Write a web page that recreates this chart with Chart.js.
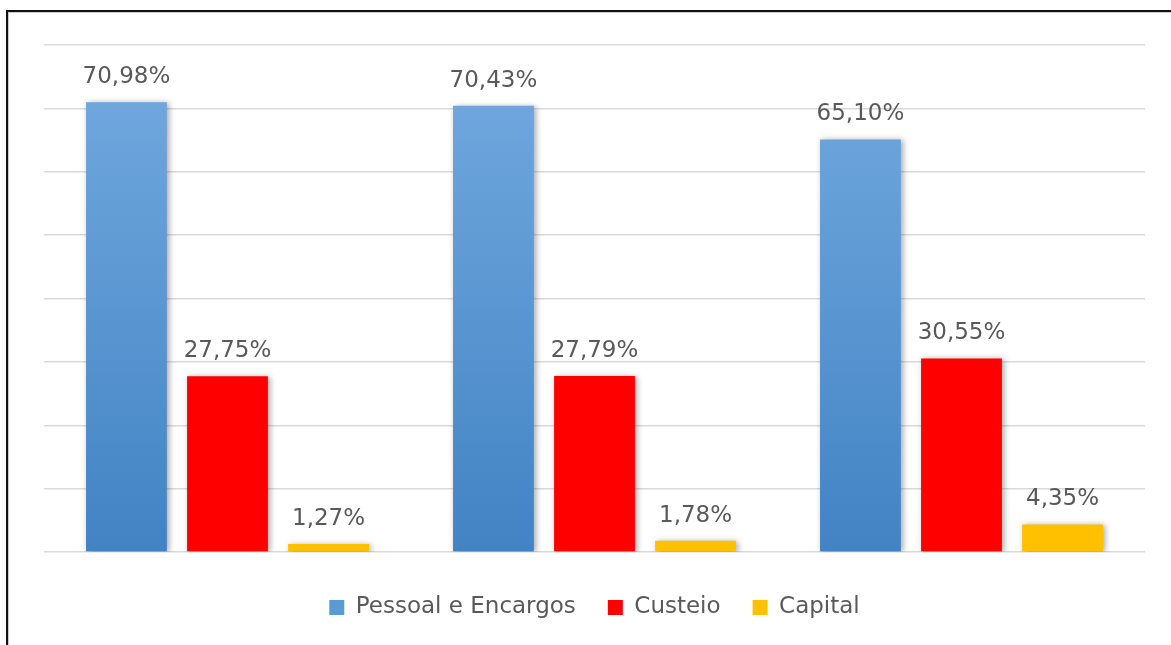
<!DOCTYPE html>
<html>
<head>
<meta charset="utf-8">
<script src="https://cdn.jsdelivr.net/npm/chart.js@4"></script>
<style>
  html, body { margin: 0; padding: 0; background: #fff; }
  #wrap { position: relative; width: 1171px; height: 645px; overflow: hidden; }
  #frame {
    position: absolute; left: 6px; top: 10px; width: 1200px; height: 700px;
    border-left: 2px solid #111; border-top: 2px solid #111;
    box-shadow: inset 1px 1px 0 #ccc;
  }
  canvas { position: absolute; left: 0; top: 0; }
</style>
</head>
<body>
<div id="wrap">
  <div id="frame"></div>
  <canvas id="chart" width="1171" height="645"></canvas>
</div>
<script>
// categories (no visible labels in the picture)
const categories = ["", "", ""];
const seriesNames = ["Pessoal e Encargos", "Custeio", "Capital"];
const pessoal = [70.98, 70.43, 65.10];
const custeio = [27.75, 27.79, 30.55];
const capital = [1.27, 1.78, 4.35];
const yTicks = [0, 10, 20, 30, 40, 50, 60, 70, 80];

const fmt = (v) => v.toFixed(2).replace(".", ",") + "%";

function blueGradient(context) {
  const chart = context.chart;
  const area = chart.chartArea;
  if (!area) return "#5b9bd5";
  const g = chart.ctx.createLinearGradient(0, area.top, 0, area.bottom);
  g.addColorStop(0, "#74abe0");
  g.addColorStop(1, "#4283c4");
  return g;
}

const barShadow = {
  id: "barShadow",
  beforeDatasetsDraw(chart) {
    const ctx = chart.ctx;
    ctx.save();
    ctx.shadowColor = "rgba(0,0,0,0.35)";
    ctx.shadowBlur = 6;
    ctx.shadowOffsetX = 2;
    ctx.shadowOffsetY = 1;
  },
  afterDatasetsDraw(chart) {
    chart.ctx.restore();
  }
};

const valueLabels = {
  id: "valueLabels",
  afterDatasetsDraw(chart) {
    const ctx = chart.ctx;
    ctx.save();
    ctx.font = "23px 'DejaVu Sans'";
    ctx.fillStyle = "#595959";
    ctx.textAlign = "center";
    ctx.textBaseline = "alphabetic";
    chart.data.datasets.forEach((ds, i) => {
      chart.getDatasetMeta(i).data.forEach((bar, j) => {
        ctx.fillText(fmt(ds.data[j]), bar.x, bar.y - 19);
      });
    });
    ctx.restore();
  }
};

new Chart(document.getElementById("chart"), {
  type: "bar",
  data: {
    labels: categories,
    datasets: [
      { label: seriesNames[0], data: pessoal, backgroundColor: blueGradient },
      { label: seriesNames[1], data: custeio, backgroundColor: "#ff0000" },
      { label: seriesNames[2], data: capital, backgroundColor: "#ffc000" }
    ]
  },
  options: {
    responsive: false,
    animation: false,
    categoryPercentage: 0.826,
    barPercentage: 0.8,
    layout: { padding: { left: 44, right: 26, top: 45, bottom: 16 } },
    plugins: {
      tooltip: { enabled: false },
      legend: {
        position: "bottom",
        labels: {
          boxWidth: 15,
          boxHeight: 15,
          padding: 32,
          color: "#595959",
          font: { family: "'DejaVu Sans'", size: 23 },
          generateLabels(chart) {
            const items = Chart.defaults.plugins.legend.labels.generateLabels(chart);
            items[0].fillStyle = "#5b9bd5";
            items.forEach((it) => { it.lineWidth = 0; it.strokeStyle = it.fillStyle; });
            return items;
          }
        }
      }
    },
    scales: {
      x: {
        grid: { display: false },
        border: { display: false },
        ticks: { display: false },
        afterFit(scale) { scale.height = 12; }
      },
      y: {
        min: yTicks[0],
        max: yTicks[yTicks.length - 1],
        afterBuildTicks(scale) { scale.ticks = yTicks.map((v) => ({ value: v })); },
        ticks: { display: false },
        border: { display: false },
        grid: { color: "#d9d9d9", lineWidth: 1.5, drawTicks: false }
      }
    }
  },
  plugins: [barShadow, valueLabels]
});
</script>
</body>
</html>
